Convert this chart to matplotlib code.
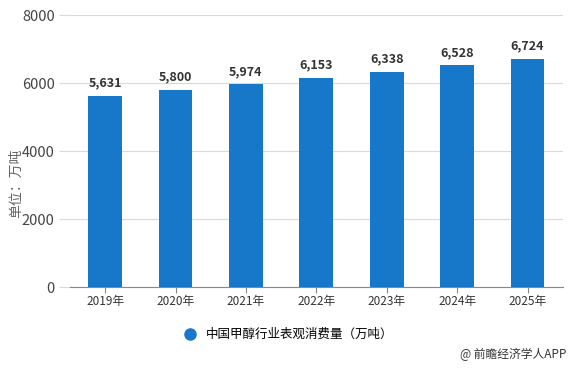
import matplotlib
matplotlib.use("Agg")
import matplotlib.pyplot as plt
from matplotlib.lines import Line2D

plt.rcParams['font.family'] = ['Noto Sans CJK SC', 'DejaVu Sans']

years = ["2019年", "2020年", "2021年", "2022年", "2023年", "2024年", "2025年"]
values = [5631, 5800, 5974, 6153, 6338, 6528, 6724]
yticks = [0, 2000, 4000, 6000, 8000]
series_name = "中国甲醇行业表观消费量（万吨）"
bar_color = "#1777c8"

fig = plt.figure(figsize=(5.75, 3.69), dpi=100)
ax = fig.add_axes([0.1217, 0.222, 0.857, 0.737])

x = list(range(len(years)))
ax.bar(x, values, width=0.48, color=bar_color, zorder=3)
for xi, v in zip(x, values):
    ax.text(xi, v + 180, f"{v:,}", ha="center", va="bottom",
            fontsize=9, fontweight="bold", color="#333333")

ax.set_xlim(-0.5, len(years) - 0.5)
ax.set_ylim(0, 8000)
ax.set_yticks(yticks)
ax.set_yticklabels([str(t) for t in yticks])
ax.set_xticks(x)
ax.set_xticklabels(years)
ax.grid(axis="y", color="#d9d9d9", linewidth=0.8, zorder=0)
for s in ["top", "right", "left"]:
    ax.spines[s].set_visible(False)
ax.spines["bottom"].set_color("#888888")
ax.tick_params(axis="y", length=8, color="#d9d9d9", labelsize=10.5, labelcolor="#444444", pad=3)
ax.tick_params(axis="x", length=4, color="#888888", labelsize=8.5, labelcolor="#333333", pad=2)
ax.set_ylabel("单位：万吨", fontsize=10, color="#666666")
ax.yaxis.set_label_coords(-0.096, 0.38)

handle = Line2D([], [], marker="o", linestyle="", markersize=8, color=bar_color)
fig.legend([handle], [series_name], loc="center", bbox_to_anchor=(0.496, 0.093),
           frameon=False, fontsize=9, handletextpad=0.3)
fig.text(0.985, 0.022, "@ 前瞻经济学人APP", ha="right", va="bottom",
         fontsize=8.5, color="#333333")

fig.savefig("out.png", dpi=100)
